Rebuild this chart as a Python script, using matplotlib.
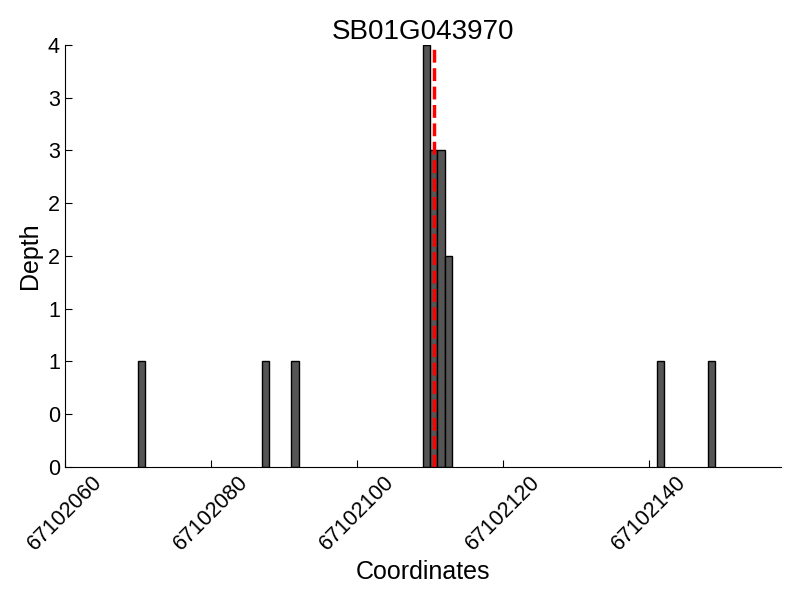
import matplotlib
matplotlib.use("Agg")
import matplotlib.pyplot as plt
from matplotlib.ticker import FormatStrFormatter, MultipleLocator

# read depth per coordinate
positions = [67102070, 67102087, 67102091, 67102109, 67102110, 67102111,
             67102112, 67102141, 67102148]
depths = [1, 1, 1, 4, 3, 3, 2, 1, 1]
marker_pos = 67102110.6
gene_name = "SB01G043970"

plt.rcParams["font.family"] = ["Liberation Sans", "DejaVu Sans"]

fig = plt.figure(figsize=(8, 6), dpi=100)
ax = fig.add_axes([0.081, 0.222, 0.895, 0.703])

ax.bar(positions, depths, width=1, align="edge", color="#555555",
       edgecolor="black", linewidth=1)
ax.axvline(marker_pos, color="red", linestyle="--", linewidth=2.5)

ax.set_xlim(67102060, 67102158)
ax.set_ylim(0, 4)
ax.xaxis.set_major_locator(MultipleLocator(20))
ax.xaxis.set_major_formatter(FormatStrFormatter("%d"))
ax.yaxis.set_major_locator(MultipleLocator(0.5))
ax.yaxis.set_major_formatter(FormatStrFormatter("%d"))

# only left + bottom spines, ticks pointing in
ax.spines["top"].set_visible(False)
ax.spines["right"].set_visible(False)
ax.tick_params(direction="in", length=5, labelsize=15.5, top=False, right=False)
plt.setp(ax.get_xticklabels(), rotation=45, ha="center")

ax.set_title(gene_name, fontsize=20, pad=4)
ax.set_xlabel("Coordinates", fontsize=18)
ax.set_ylabel("Depth", fontsize=18, labelpad=4)

fig.savefig("out.png", dpi=100)
